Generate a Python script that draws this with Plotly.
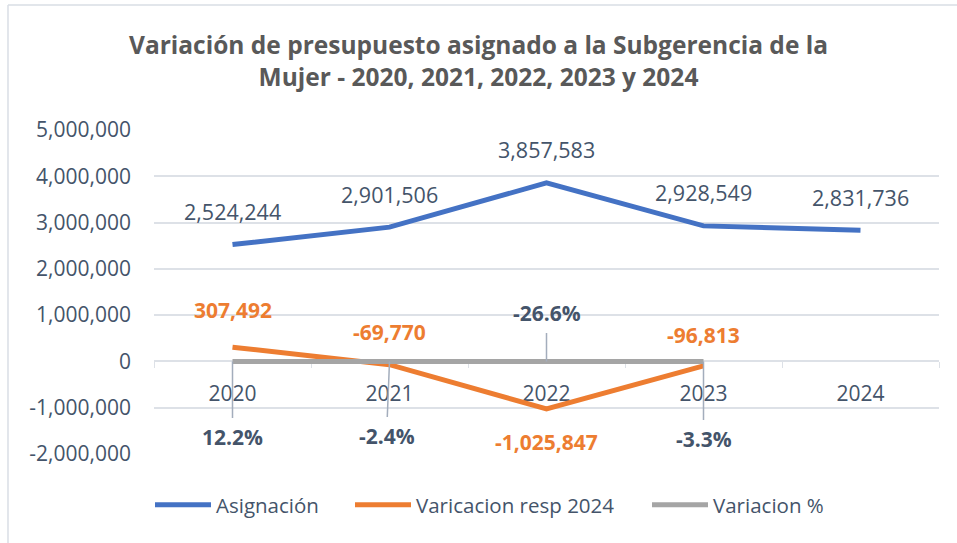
import plotly.graph_objects as go

years = ["2020", "2021", "2022", "2023", "2024"]
asignacion = [2524244, 2901506, 3857583, 2928549, 2831736]
variacion_resp_2024 = [307492, -69770, -1025847, -96813]
variacion_pct = [12.2, -2.4, -26.6, -3.3]
y_ticks = [-2000000, -1000000, 0, 1000000, 2000000, 3000000, 4000000, 5000000]

BLUE = "#4472C4"
ORANGE = "#ED7D31"
GRAY = "#A5A5A5"
TEXT = "#44546A"
GRID = "#DDE1E7"
FONT = "Open Sans"

fig = go.Figure()
fig.add_trace(go.Scatter(x=years, y=asignacion, mode="lines", name="Asignación",
                         line=dict(color=BLUE, width=5), legend="legend"))
fig.add_trace(go.Scatter(x=years[:4], y=variacion_resp_2024, mode="lines",
                         name="Varicacion resp 2024", line=dict(color=ORANGE, width=5),
                         legend="legend2"))
fig.add_trace(go.Scatter(x=years[:4], y=[p / 100 for p in variacion_pct], mode="lines",
                         name="Variacion %", line=dict(color=GRAY, width=5),
                         legend="legend3"))

ann = []
for i, v in enumerate(asignacion):
    ann.append(dict(x=i, y=v, text=f"{v:,}", showarrow=False, yshift=33,
                    font=dict(family=FONT, size=21.5, color=TEXT)))
orange_shift = [37, 33, -33, 31]
for i, (v, s) in enumerate(zip(variacion_resp_2024, orange_shift)):
    ann.append(dict(x=i, y=v, text=f"<b>{v:,}</b>", showarrow=False, yshift=s,
                    font=dict(family=FONT, size=21, color=ORANGE)))
pct_offsets = [(0, 76), (-3, 75), (0, -48), (0, 78)]
for i, (p, (ax, ay)) in enumerate(zip(variacion_pct, pct_offsets)):
    ann.append(dict(x=i, y=p / 100, text=f"<b>{p:.1f}%</b>", showarrow=True,
                    arrowhead=0, arrowwidth=1.5, arrowcolor="#A3ADBC", ax=ax, ay=ay,
                    borderpad=5, standoff=0,
                    font=dict(family=FONT, size=21, color=TEXT)))

# chart border (top and left edges visible)
shapes = [
    dict(type="line", xref="paper", yref="paper", x0=-0.186, x1=1.03, y0=1.386, y1=1.386,
         line=dict(color="#D9DEE5", width=1.5)),
    dict(type="line", xref="paper", yref="paper", x0=-0.186, x1=-0.186, y0=1.386, y1=-0.3,
         line=dict(color="#D9DEE5", width=1.5)),
]

leg_common = dict(orientation="h", y=-0.157, yanchor="middle", xanchor="left",
                  font=dict(family=FONT, size=20.5, color=TEXT), itemwidth=56,
                  bgcolor="rgba(0,0,0,0)")

fig.update_layout(
    width=957, height=543,
    paper_bgcolor="white", plot_bgcolor="white",
    margin=dict(l=154, r=18, t=130, b=89),
    title=dict(text="<b>Variación de presupuesto asignado a la Subgerencia de la<br>Mujer - 2020, 2021, 2022, 2023 y 2024</b>",
               x=0.5, xanchor="center", y=1 - 54 / 543, yanchor="middle", yref="container",
               font=dict(family=FONT, size=24.5, color="#595959")),
    showlegend=True,
    legend=dict(x=(150 - 154) / 785, **leg_common),
    legend2=dict(x=(350 - 154) / 785, **leg_common),
    legend3=dict(x=(647 - 154) / 785, **leg_common),
    annotations=ann,
    shapes=shapes,
    font=dict(family=FONT, color=TEXT),
)
fig.update_yaxes(range=[-2000000, 5000000], tickmode="array", tickvals=y_ticks,
                 ticktext=[f"{v:,}" for v in y_ticks],
                 showgrid=True, gridcolor=GRID, gridwidth=1.5, zeroline=False,
                 ticklabelstandoff=22, tickfont=dict(family=FONT, size=21, color=TEXT))
fig.update_xaxes(type="category", range=[-0.5, 4.5], anchor="free", position=2 / 7,
                 showline=True, linecolor=GRID, linewidth=1.5, ticks="outside",
                 tickson="boundaries", ticklen=6, tickcolor=GRID, showgrid=False,
                 layer="below traces",
                 ticklabelstandoff=14, tickfont=dict(family=FONT, size=21, color=TEXT))

fig.write_html("out.html", config={"displayModeBar": False},
               post_script="document.body.style.margin='0px';")
